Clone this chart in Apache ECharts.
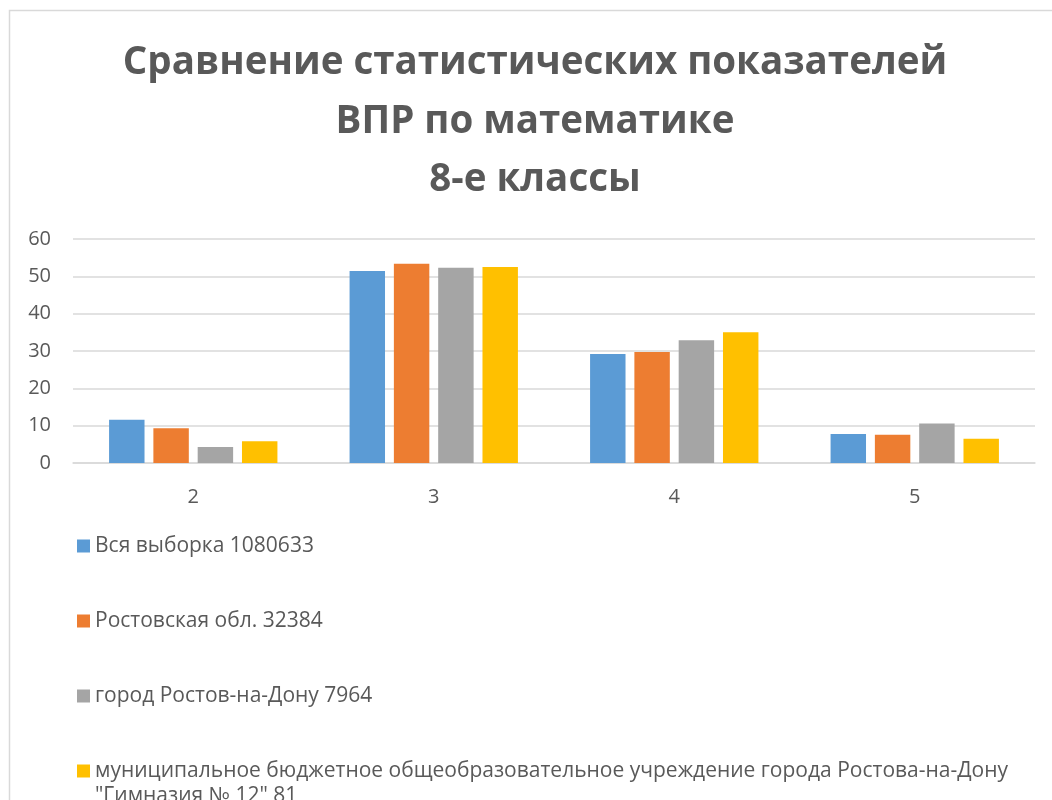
<!DOCTYPE html>
<html>
<head>
<meta charset="utf-8">
<script src="https://cdn.jsdelivr.net/npm/echarts@6/dist/echarts.min.js"></script>
<style>
html,body{margin:0;padding:0;background:#fff;}
#chart{width:1052px;height:800px;}
</style>
</head>
<body>
<div id="chart"></div>
<script>
const categories = ['2', '3', '4', '5'];
const seriesNames = [
  'Вся выборка 1080633',
  'Ростовская обл. 32384',
  'город Ростов-на-Дону 7964',
  'муниципальное бюджетное общеобразовательное учреждение города Ростова-на-Дону "Гимназия № 12" 81'
];
const vsyaVyborka = [11.6, 51.4, 29.2, 7.8];
const rostovObl = [9.3, 53.4, 29.7, 7.6];
const gorodRostov = [4.3, 52.3, 32.9, 10.6];
const gimnaziya12 = [5.8, 52.5, 35.0, 6.5];
const colors = ['#5B9BD5', '#ED7D31', '#A5A5A5', '#FFC000'];
const seriesData = [vsyaVyborka, rostovObl, gorodRostov, gimnaziya12];

const font = '"Open Sans", "Noto Sans", sans-serif';
const legendText = {
  fontFamily: font,
  fontSize: 21,
  color: '#595959',
  lineHeight: 25
};
const chart = echarts.init(document.getElementById('chart'));
chart.setOption({
  animation: false,
  color: colors,
  title: {
    text: 'Сравнение статистических показателей\nВПР по математике\n8-е классы',
    left: 535,
    textAlign: 'center',
    top: 34,
    padding: 0,
    textStyle: {
      fontFamily: font,
      fontSize: 38.5,
      fontWeight: 'bold',
      color: '#595959',
      lineHeight: 58.5
    }
  },
  graphic: [{
    type: 'rect',
    shape: {x: 9.5, y: 10.5, width: 1200, height: 1000},
    style: {fill: 'none', stroke: '#d9d9d9', lineWidth: 1.5},
    silent: true
  }],
  legend: [{
    orient: 'vertical',
    left: 77,
    top: 533.5,
    height: 240,
    padding: 0,
    itemWidth: 13,
    itemHeight: 13,
    itemGap: 50,
    icon: 'rect',
    data: seriesNames.slice(0, 3),
    textStyle: legendText
  }, {
    orient: 'vertical',
    left: 77,
    top: 733.5,
    height: 200,
    width: 1200,
    padding: 0,
    itemWidth: 13,
    itemHeight: 13,
    icon: 'rect',
    data: seriesNames.slice(3),
    formatter: function (name) {
      return '\n' + name.replace(' "Гимназия', '\n"Гимназия');
    },
    textStyle: legendText
  }],
  grid: {left: 73, right: 17, top: 239, bottom: 337},
  xAxis: {
    type: 'category',
    data: categories,
    axisLine: {lineStyle: {color: '#d9d9d9', width: 1.5}},
    axisTick: {show: false},
    axisLabel: {fontFamily: font, fontSize: 20, color: '#595959', margin: 24}
  },
  yAxis: {
    type: 'value',
    min: 0,
    max: 60,
    interval: 10,
    axisLine: {show: false},
    axisTick: {show: false},
    splitLine: {lineStyle: {color: '#d9d9d9', width: 1.5}},
    axisLabel: {fontFamily: font, fontSize: 20, color: '#595959', margin: 22}
  },
  series: seriesNames.map((name, i) => ({
    name: name,
    type: 'bar',
    data: seriesData[i],
    barGap: '25%',
    barCategoryGap: '30%',
    itemStyle: {color: colors[i]}
  }))
});
</script>
</body>
</html>
